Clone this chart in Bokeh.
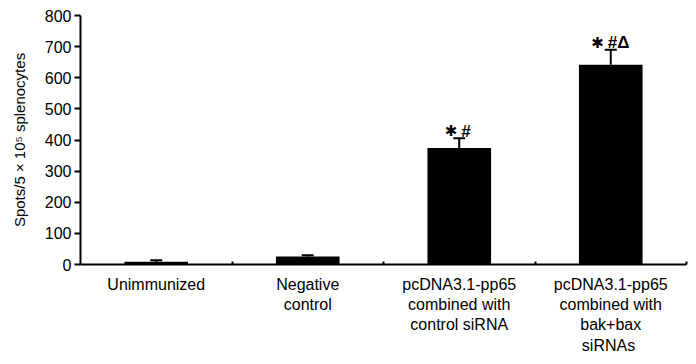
import numpy as np
from bokeh.plotting import figure
from bokeh.models import ColumnDataSource, FixedTicker, Whisker, TeeHead, Range1d
from bokeh.core.properties import value
from bokeh.embed import file_html
from bokeh.resources import INLINE

categories = ["Unimmunized", "Negative\ncontrol", "pcDNA3.1-pp65\ncombined with\ncontrol siRNA",
              "pcDNA3.1-pp65\ncombined with\nbak+bax\n siRNAs"]
spots = [9, 26, 374, 642]
errors = [5, 4, 32, 48]
star_marks = ["", "", "✱", "✱"]
other_marks = ["", "", "#", "#Δ"]
y_ticks = [0, 100, 200, 300, 400, 500, 600, 700, 800]

n = len(categories)
xc = [i + 0.5 for i in range(n)]
upper = [v + e for v, e in zip(spots, errors)]

# horizontal layout of the significance marks (pixel offsets, centred group)
STAR_W, GAP, CHAR_W = 12, 4, 10
rest_w = [CHAR_W * len(m) for m in other_marks]
rest_off = [-1 - (STAR_W + GAP + r) / 2 + STAR_W + GAP for r in rest_w]
star_off = [o - GAP for o in rest_off]

src = ColumnDataSource(data=dict(x=xc, top=spots, upper=upper, star=star_marks, rest=other_marks,
                                 soff=star_off, roff=rest_off))

FONT = "Liberation Sans"

p = figure(width=696, height=364, output_backend="svg", toolbar_location=None,
           x_range=Range1d(0, n), y_range=Range1d(0, 800),
           min_border_left=80, min_border_right=10, min_border_top=15, min_border_bottom=100)
p.outline_line_color = None
p.grid.grid_line_color = None
p.background_fill_color = "white"
p.border_fill_color = "white"

p.vbar(x="x", top="top", width=0.42, bottom=0, source=src, fill_color="black", line_color=None)

w = Whisker(base="x", upper="upper", lower="top", source=src, line_color="black", line_width=2,
            upper_head=TeeHead(size=12, line_color="black", line_width=2), lower_head=None)
p.add_layout(w)

p.text(x="x", y="upper", text="star", source=src, text_align="right", text_baseline="alphabetic",
       x_offset="soff", y_offset=-7, text_font=value("DejaVu Sans"), text_font_style="bold",
       text_font_size="15px", text_color="black")
p.text(x="x", y="upper", text="rest", source=src, text_align="left", text_baseline="alphabetic",
       x_offset="roff", y_offset=-7, text_font=value(FONT), text_font_style="bold",
       text_font_size="17px", text_color="black")

# y axis
ya = p.yaxis[0]
ya.ticker = FixedTicker(ticks=y_ticks)
ya.minor_tick_line_color = None
ya.major_tick_in = 0
ya.major_tick_out = 6
ya.major_tick_line_width = 2
ya.axis_line_width = 2
ya.axis_line_color = "black"
ya.major_tick_line_color = "black"
ya.major_label_text_font = FONT
ya.major_label_text_font_size = "16px"
ya.major_label_text_color = "black"
ya.major_label_standoff = 3
ya.axis_label = "Spots/5 × 10⁵ splenocytes"
ya.axis_label_text_font = FONT
ya.axis_label_text_font_size = "15px"
ya.axis_label_text_font_style = "normal"
ya.axis_label_text_color = "black"
ya.axis_label_standoff = 14

# x axis
xa = p.xaxis[0]
bounds = [float(i) for i in range(1, n + 1)]
xa.ticker = FixedTicker(ticks=xc + bounds)
overrides = {x: c for x, c in zip(xc, categories)}
overrides.update({b: "" for b in bounds})
xa.major_label_overrides = overrides
xa.minor_tick_line_color = None
xa.major_tick_in = 3
xa.major_tick_out = 0
xa.major_tick_line_width = 2
xa.axis_line_width = 2
xa.axis_line_color = "black"
xa.major_tick_line_color = "black"
xa.major_label_text_font = FONT
xa.major_label_text_font_size = "16px"
xa.major_label_text_color = "black"
xa.major_label_standoff = 11

open("out.html", "w").write(file_html(p, INLINE))
